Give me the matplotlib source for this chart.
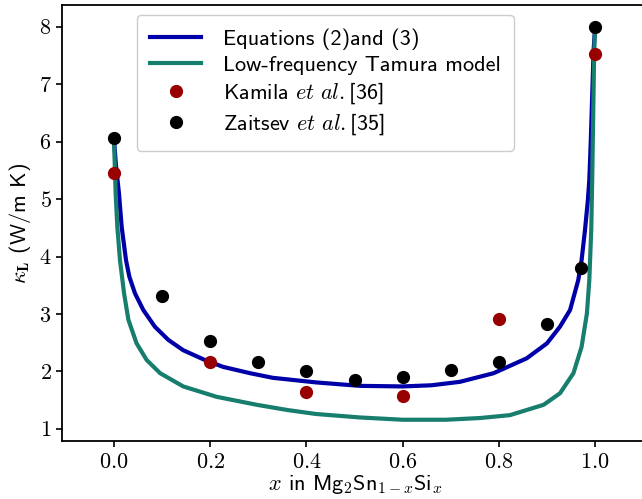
import matplotlib
matplotlib.use("Agg")
import matplotlib.pyplot as plt

# Equations (2) and (3)
eq_x = [0.0, 0.004, 0.0104, 0.016, 0.025, 0.032, 0.0437, 0.061, 0.085, 0.113,
        0.144, 0.189, 0.227, 0.283, 0.33, 0.42, 0.511, 0.6, 0.66, 0.719,
        0.789, 0.858, 0.9, 0.927, 0.948, 0.965, 0.972, 0.979, 0.985, 0.988,
        0.991, 0.994, 0.997, 1.0]
eq_y = [6.05, 5.6, 5.10, 4.52, 3.94, 3.65, 3.36, 3.07, 2.78, 2.55,
        2.37, 2.20, 2.08, 1.97, 1.89, 1.81, 1.75, 1.74, 1.76, 1.82,
        1.97, 2.23, 2.49, 2.78, 3.07, 3.59, 3.94, 4.46, 4.98, 5.33,
        6.0, 6.8, 7.6, 7.99]

# Low-frequency Tamura model
tam_x = [0.0, 0.0035, 0.007, 0.0125, 0.021, 0.030, 0.047, 0.068, 0.096, 0.144,
         0.213, 0.297, 0.36, 0.42, 0.511, 0.6, 0.69, 0.761, 0.823, 0.893,
         0.927, 0.955, 0.972, 0.983, 0.988, 0.992, 0.994, 0.996, 0.998, 1.0]
tam_y = [6.05, 5.10, 4.52, 3.94, 3.36, 2.90, 2.49, 2.20, 1.97, 1.74,
         1.56, 1.42, 1.33, 1.26, 1.20, 1.16, 1.16, 1.19, 1.24, 1.42,
         1.62, 1.97, 2.43, 3.01, 3.59, 4.46, 5.33, 6.4, 7.5, 7.99]

kamila_x = [0.0, 0.2, 0.4, 0.6, 0.8, 1.0]
kamila_y = [5.45, 2.17, 1.65, 1.58, 2.92, 7.53]

zaitsev_x = [0.0, 0.1, 0.2, 0.3, 0.4, 0.5, 0.6, 0.7, 0.8, 0.9, 0.97, 1.0]
zaitsev_y = [6.07, 3.32, 2.53, 2.16, 2.0, 1.86, 1.9, 2.02, 2.16, 2.82, 3.8, 8.0]

xticks = [0.0, 0.2, 0.4, 0.6, 0.8, 1.0]
yticks = [1, 2, 3, 4, 5, 6, 7, 8]

plt.rcParams["font.family"] = "cmss10"
plt.rcParams["mathtext.fontset"] = "cm"
plt.rcParams["axes.unicode_minus"] = False
plt.rcParams["font.size"] = 16

fig = plt.figure(figsize=(6.42, 4.99), dpi=100)
ax = fig.add_axes([62 / 642, 58 / 499, 586 / 642, 436 / 499])

ax.plot(eq_x, eq_y, color="#0000a8", lw=3, label="Equations (2)and (3)", zorder=2)
ax.plot(tam_x, tam_y, color="#177e6e", lw=3, label="Low-frequency Tamura model", zorder=2)
ax.plot(kamila_x, kamila_y, "o", color="#990000", ms=8.5, ls="none",
        label=r"Kamila $\mathit{et\ al.}$[36]", zorder=3)
ax.plot(zaitsev_x, zaitsev_y, "o", color="black", ms=8.5, ls="none",
        label=r"Zaitsev $\mathit{et\ al.}$[35]", zorder=3)

ax.set_xlim(-0.108, 1.11)
ax.set_ylim(0.79, 8.38)
ax.set_xticks(xticks)
ax.set_xticklabels([f"${t:.1f}$" for t in xticks])
ax.set_yticks(yticks)
ax.set_yticklabels([f"${t}$" for t in yticks])
ax.tick_params(direction="out", length=4, width=1.2, labelsize=16)
ax.tick_params(axis="x", pad=5)
for s in ax.spines.values():
    s.set_linewidth(1.3)

ax.set_xlabel(r"$x$ in Mg$_2$Sn$_{1-x}$Si$_x$", labelpad=0)
ax.set_ylabel(r"$\kappa_{\mathbf{L}}$ (W/m K)", labelpad=4)

ax.legend(loc="upper left", bbox_to_anchor=(0.128, 0.977), borderaxespad=0,
          handlelength=2.3, handletextpad=0.95, labelspacing=0.25,
          borderpad=0.6, fontsize=16, framealpha=1, edgecolor="#cccccc")

fig.savefig("out.png", dpi=100)
